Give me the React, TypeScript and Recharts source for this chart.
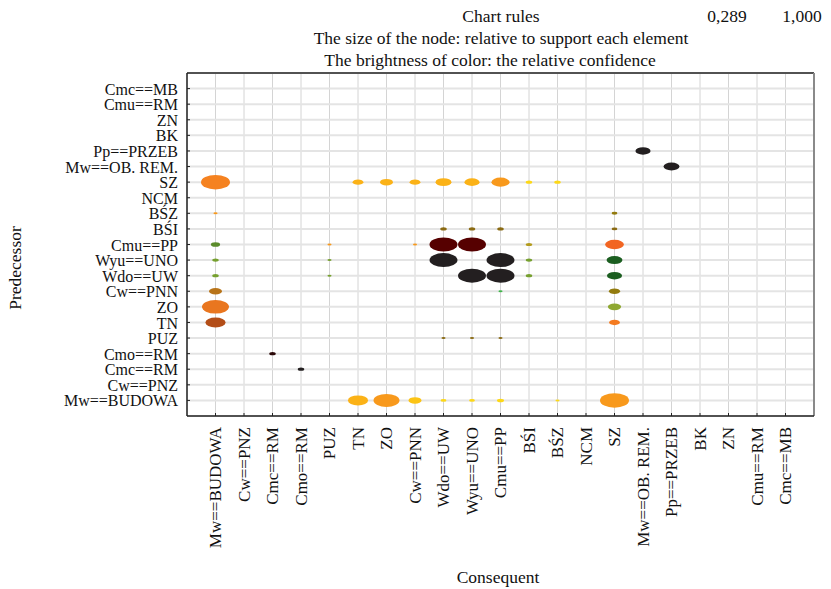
import React from "react";
import { ScatterChart, Scatter, XAxis, YAxis, ZAxis, CartesianGrid, ReferenceLine } from "recharts";

// Same item list is used for both axes (index 1..21, bottom-up / left-right)
const CATEGORIES = [
  "Mw==BUDOWA",
  "Cw==PNZ",
  "Cmc==RM",
  "Cmo==RM",
  "PUZ",
  "TN",
  "ZO",
  "Cw==PNN",
  "Wdo==UW",
  "Wyu==UNO",
  "Cmu==PP",
  "BŚI",
  "BŚZ",
  "NCM",
  "SZ",
  "Mw==OB. REM.",
  "Pp==PRZEB",
  "BK",
  "ZN",
  "Cmu==RM",
  "Cmc==MB",
];

const TICKS = CATEGORIES.map((_, i) => i + 1);

// [predecessor, consequent, relative support, confidence tone]
const RULES: [string, string, number, string][] = [
  ["SZ", "Mw==BUDOWA", 1.0, "orange"],
  ["SZ", "TN", 0.14, "gold"],
  ["SZ", "ZO", 0.2, "gold"],
  ["SZ", "Cw==PNN", 0.14, "gold"],
  ["SZ", "Wdo==UW", 0.3, "gold"],
  ["SZ", "Wyu==UNO", 0.27, "gold"],
  ["SZ", "Cmu==PP", 0.39, "amber"],
  ["SZ", "BŚI", 0.05, "yellow"],
  ["SZ", "BŚZ", 0.05, "yellow"],
  ["BŚZ", "Mw==BUDOWA", 0.02, "amber"],
  ["BŚZ", "SZ", 0.04, "olive"],
  ["BŚI", "Wdo==UW", 0.05, "brownOlive"],
  ["BŚI", "Wyu==UNO", 0.05, "brownOlive"],
  ["BŚI", "Cmu==PP", 0.05, "brownOlive"],
  ["BŚI", "SZ", 0.04, "brownOlive"],
  ["Cmu==PP", "Mw==BUDOWA", 0.1, "green"],
  ["Cmu==PP", "PUZ", 0.02, "amber"],
  ["Cmu==PP", "Cw==PNN", 0.02, "amber"],
  ["Cmu==PP", "Wdo==UW", 0.93, "maroon"],
  ["Cmu==PP", "Wyu==UNO", 0.93, "maroon"],
  ["Cmu==PP", "BŚI", 0.05, "mustard"],
  ["Cmu==PP", "SZ", 0.42, "vermilion"],
  ["Wyu==UNO", "Mw==BUDOWA", 0.05, "leaf"],
  ["Wyu==UNO", "PUZ", 0.02, "leaf"],
  ["Wyu==UNO", "Wdo==UW", 0.93, "black"],
  ["Wyu==UNO", "Cmu==PP", 0.93, "black"],
  ["Wyu==UNO", "BŚI", 0.05, "leaf"],
  ["Wyu==UNO", "SZ", 0.3, "forest"],
  ["Wdo==UW", "Mw==BUDOWA", 0.05, "leaf"],
  ["Wdo==UW", "PUZ", 0.02, "leaf"],
  ["Wdo==UW", "Wyu==UNO", 0.93, "black"],
  ["Wdo==UW", "Cmu==PP", 0.93, "black"],
  ["Wdo==UW", "BŚI", 0.05, "leaf"],
  ["Wdo==UW", "SZ", 0.27, "forest"],
  ["Cw==PNN", "Mw==BUDOWA", 0.2, "ochre"],
  ["Cw==PNN", "Cmu==PP", 0.02, "lime"],
  ["Cw==PNN", "SZ", 0.15, "olive"],
  ["ZO", "Mw==BUDOWA", 0.87, "orangeDeep"],
  ["ZO", "SZ", 0.21, "yellowGreen"],
  ["TN", "Mw==BUDOWA", 0.48, "rust"],
  ["TN", "SZ", 0.14, "tangerine"],
  ["PUZ", "Wdo==UW", 0.02, "brownOlive"],
  ["PUZ", "Wyu==UNO", 0.02, "brownOlive"],
  ["PUZ", "Cmu==PP", 0.02, "brownOlive"],
  ["Cmo==RM", "Cmc==RM", 0.05, "darkRed"],
  ["Cmc==RM", "Cmo==RM", 0.05, "black"],
  ["Mw==BUDOWA", "TN", 0.48, "gold"],
  ["Mw==BUDOWA", "ZO", 0.8, "amber"],
  ["Mw==BUDOWA", "Cw==PNN", 0.2, "goldLight"],
  ["Mw==BUDOWA", "Wdo==UW", 0.04, "yellow"],
  ["Mw==BUDOWA", "Wyu==UNO", 0.04, "yellow"],
  ["Mw==BUDOWA", "Cmu==PP", 0.06, "yellow"],
  ["Mw==BUDOWA", "BŚZ", 0.02, "yellow"],
  ["Mw==BUDOWA", "SZ", 1.0, "amber"],
  ["Mw==OB. REM.", "Pp==PRZEB", 0.3, "black"],
  ["Pp==PRZEB", "Mw==OB. REM.", 0.27, "black"],
];

const PALETTE: Record<string, string> = {
  orange: "#f58220",
  orangeDeep: "#e9761f",
  gold: "#fbb217",
  amber: "#f8991c",
  yellow: "#fdd817",
  goldLight: "#fcc415",
  olive: "#937b0e",
  brownOlive: "#8a6a12",
  green: "#5b8c2b",
  leaf: "#76a02e",
  lime: "#3fb54a",
  forest: "#1b5e20",
  yellowGreen: "#8fa832",
  maroon: "#560000",
  mustard: "#b39b1c",
  vermilion: "#f26522",
  tangerine: "#f47b20",
  ochre: "#b87419",
  rust: "#b34d17",
  black: "#231f20",
  darkRed: "#2b0808",
};

const points = RULES.map(([pred, cons, support, tone]) => ({
  x: CATEGORIES.indexOf(cons) + 1,
  y: CATEGORIES.indexOf(pred) + 1,
  support,
  tone,
}));

const FONT = "Liberation Serif, DejaVu Serif, serif";

function Bubble(props: any) {
  const { cx, cy, payload } = props;
  const w = props.width ?? 2 * Math.sqrt((props.size ?? 0) / Math.PI);
  const rx = w / 2;
  return <ellipse cx={cx} cy={cy} rx={rx} ry={rx * 0.5} fill={PALETTE[payload.tone]} />;
}

function XTick(props: any) {
  const { x, y, payload } = props;
  return (
    <g>
      <line x1={x} y1={y} x2={x} y2={y - 3} stroke="#222" />
      <text
        x={x}
        y={y + 11}
        transform={`rotate(-90 ${x} ${y + 11})`}
        textAnchor="end"
        dy="0.35em"
        fontSize={17}
        style={{ fontFamily: FONT }}
        fill="#111"
      >
        {CATEGORIES[payload.value - 1]}
      </text>
    </g>
  );
}

function YTick(props: any) {
  const { x, y, payload } = props;
  return (
    <g>
      <line x1={x} y1={y} x2={x + 3} y2={y} stroke="#222" />
      <text x={x - 9} y={y} textAnchor="end" dy="0.38em" fontSize={16} style={{ fontFamily: FONT }} fill="#111">
        {CATEGORIES[payload.value - 1]}
      </text>
    </g>
  );
}

const textStyle: React.CSSProperties = {
  position: "absolute",
  fontFamily: FONT,
  fontSize: 17.5,
  color: "#111",
  whiteSpace: "nowrap",
  lineHeight: "20px",
  transform: "translate(-50%, -50%)",
};

export default function App() {
  return (
    <div style={{ position: "absolute", left: 0, top: 0, width: 831, height: 589, background: "#fff", fontFamily: FONT }}>
      <ScatterChart width={831} height={589} margin={{ top: 73, right: 17, bottom: 53, left: 37 }}>
        <CartesianGrid horizontal={false} stroke="#d4d4d4" />
        <CartesianGrid vertical={false} stroke="#e4e4e4" strokeWidth={2} />
        <XAxis
          type="number"
          dataKey="x"
          domain={[0, 22]}
          ticks={TICKS}
          interval={0}
          height={120}
          tickSize={0}
          tickMargin={0}
          tickLine={false}
          tick={<XTick />}
          axisLine={{ stroke: "#222", strokeWidth: 1.5 }}
        />
        <YAxis
          type="number"
          dataKey="y"
          domain={[0, 22]}
          ticks={TICKS}
          interval={0}
          width={150}
          tickSize={0}
          tickMargin={0}
          tickLine={false}
          tick={<YTick />}
          axisLine={{ stroke: "#222", strokeWidth: 1.5 }}
        />
        <ZAxis type="number" dataKey="support" domain={[0, 1]} range={[0, 660]} />
        <ReferenceLine y={22} stroke="#222" strokeWidth={1.5} />
        <ReferenceLine x={22} stroke="#8a8a8a" strokeWidth={2} />
        <Scatter data={points} shape={<Bubble />} isAnimationActive={false} />
      </ScatterChart>
      <div style={{ ...textStyle, left: 501, top: 16 }}>Chart rules</div>
      <div style={{ ...textStyle, left: 727, top: 16 }}>0,289</div>
      <div style={{ ...textStyle, left: 802, top: 16 }}>1,000</div>
      <div style={{ ...textStyle, left: 501, top: 38 }}>The size of the node: relative to support each element</div>
      <div style={{ ...textStyle, left: 490, top: 60 }}>The brightness of color: the relative confidence</div>
      <div style={{ ...textStyle, left: 15, top: 268, transform: "translate(-50%, -50%) rotate(-90deg)" }}>
        Predecessor
      </div>
      <div style={{ ...textStyle, left: 498, top: 577 }}>Consequent</div>
    </div>
  );
}
